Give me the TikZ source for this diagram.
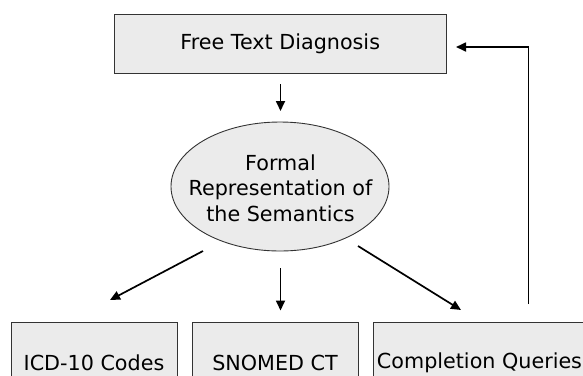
\documentclass[tikz,border=0pt]{standalone}
\usepackage{fontspec}
\setmainfont{DejaVu Sans}
\usetikzlibrary{shapes.geometric,arrows.meta}
\definecolor{boxfill}{HTML}{EBEBEB}
\definecolor{boxline}{HTML}{333333}
\begin{document}
\begin{tikzpicture}[x=1bp,y=-1bp,
  every node/.style={font=\fontsize{20.7bp}{25.5bp}\selectfont, text=black},
  rbox/.style={draw=boxline, line width=0.9bp, fill=boxfill, rectangle, inner sep=0pt, align=center},
  eshape/.style={draw=boxline, line width=0.9bp, fill=boxfill},
  arr/.style={draw=black, line width=1.7bp, -{Triangle[length=10bp,width=9bp]}}
]
\useasboundingbox (0,0) rectangle (583,375);
\begin{scope}
\clip (0,0) rectangle (583,375);
\node[rbox, minimum width=331.5bp, minimum height=59bp] (top) at (280.25,43.5) {Free Text Diagnosis};
\path[eshape] (280,186.5) ellipse [x radius=109bp, y radius=64.5bp];
\node[align=center, inner sep=0pt] (ell) at (280.5,188) {Formal\\Representation of\\the Semantics};
\node[rbox, minimum width=166bp, minimum height=82bp] (icd) at (94,363) {ICD-10 Codes};
\node[rbox, minimum width=166bp, minimum height=82bp] (snomed) at (275,363) {SNOMED CT};
\node[rbox, minimum width=213bp, minimum height=82bp] (cq) at (479.5,363) {Completion Queries};

\coordinate (d1) at (280.5,84);
\coordinate (d2) at (280.5,111);
\coordinate (l1) at (203,251);
\coordinate (l2) at (110,300);
\coordinate (m1) at (280.5,268);
\coordinate (m2) at (280.5,310.5);
\coordinate (r1) at (358,246);
\coordinate (r2) at (461,310);
\coordinate (f1) at (528.5,304);
\coordinate (f2) at (456,47);

\draw[arr] (d1) -- (d2);
\draw[arr] (l1) -- (l2);
\draw[arr] (m1) -- (m2);
\draw[arr] (r1) -- (r2);
\draw[arr] (f1) |- (f2);
\end{scope}
\end{tikzpicture}
\end{document}
